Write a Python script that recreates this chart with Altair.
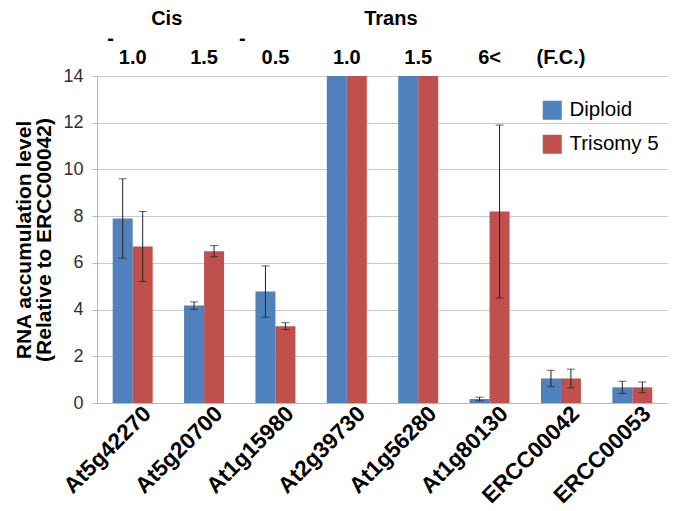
import altair as alt
import pandas as pd

categories = ["At5g42270", "At5g20700", "At1g15980", "At2g39730",
              "At1g56280", "At1g80130", "ERCC00042", "ERCC00053"]
groups = ["Diploid", "Trisomy 5"]
diploid = [7.9, 4.17, 4.77, 14, 14, 0.17, 1.05, 0.67]
diploid_err = [1.7, 0.16, 1.1, None, None, 0.08, 0.35, 0.26]
trisomy = [6.7, 6.5, 3.29, 14, 14, 8.2, 1.05, 0.67]
trisomy_err = [1.5, 0.24, 0.15, None, None, 3.7, 0.4, 0.23]

fc_cats = ["At5g42270", "At5g20700", "At1g15980", "At2g39730",
           "At1g56280", "At1g80130", "ERCC00042"]
fc_labels = ["1.0", "1.5", "0.5", "1.0", "1.5", "6<", "(F.C.)"]

colors = ["#4F81BD", "#C0504D"]

rows = []
for i, c in enumerate(categories):
    rows.append({"gene": c, "group": groups[0], "value": diploid[i],
                 "lo": None if diploid_err[i] is None else diploid[i] - diploid_err[i],
                 "hi": None if diploid_err[i] is None else diploid[i] + diploid_err[i]})
    rows.append({"gene": c, "group": groups[1], "value": trisomy[i],
                 "lo": None if trisomy_err[i] is None else trisomy[i] - trisomy_err[i],
                 "hi": None if trisomy_err[i] is None else trisomy[i] + trisomy_err[i]})
df = pd.DataFrame(rows)
err_df = df.dropna(subset=["lo", "hi"])

FONT = "Liberation Sans"

x_enc = alt.X("gene:N", sort=categories, title=None,
              scale=alt.Scale(paddingInner=0.44, paddingOuter=0.22),
              axis=alt.Axis(labelAngle=-45, labelFontSize=22.5, labelFontWeight="bold",
                            labelColor="#000000", labelFont=FONT, ticks=False,
                            domainColor="#b8b8b8", labelPadding=-1, labelOffset=7))
y_enc = alt.Y("value:Q", scale=alt.Scale(domain=[0, 14], clamp=True),
              title=["RNA accumulation level", "(Relative to ERCC00042)"],
              axis=alt.Axis(values=[0, 2, 4, 6, 8, 10, 12, 14], labelFontSize=18,
                            labelColor="#303030", labelFont=FONT,
                            titleFontSize=21, titleFont=FONT, titleFontWeight="bold",
                            titleColor="#000000", gridColor="#c8c8c8",
                            titleLineHeight=20,
                            domainColor="#b8b8b8", tickColor="#b8b8b8", tickSize=5,
                            labelPadding=9, titlePadding=8))
xoff = alt.XOffset("group:N", sort=groups)

bars = alt.Chart(df).mark_bar(clip=True).encode(
    x=x_enc, y=y_enc, xOffset=xoff,
    color=alt.Color("group:N", sort=groups,
                    scale=alt.Scale(domain=groups, range=colors),
                    legend=alt.Legend(title=None, orient="none", legendX=445, legendY=24,
                                      symbolType="square", symbolSize=361,
                                      symbolStrokeWidth=0, labelFontSize=20.5,
                                      labelFont=FONT, labelColor="#000000",
                                      rowPadding=13, labelOffset=7)))

rules = alt.Chart(err_df).mark_rule(color="#222222", strokeWidth=1).encode(
    x=alt.X("gene:N", sort=categories), xOffset=xoff,
    y=alt.Y("lo:Q"), y2="hi:Q")
caps_hi = alt.Chart(err_df).mark_tick(color="#222222", thickness=1, size=8,
                                      orient="horizontal").encode(
    x=alt.X("gene:N", sort=categories), xOffset=xoff, y="hi:Q")
caps_lo = alt.Chart(err_df).mark_tick(color="#222222", thickness=1, size=8,
                                      orient="horizontal").encode(
    x=alt.X("gene:N", sort=categories), xOffset=xoff, y="lo:Q")

fc_df = pd.DataFrame({"gene": fc_cats, "label": fc_labels})

txt = dict(fontSize=20, fontWeight="bold", font=FONT, baseline="middle")
fc_text = alt.Chart(fc_df).mark_text(**txt).encode(
    x=alt.X("gene:N", sort=categories), y=alt.value(-18), text="label:N")
dash1 = alt.Chart(pd.DataFrame({"gene": ["At5g42270"], "label": ["-"]})).mark_text(
    dx=-22, **txt).encode(x=alt.X("gene:N", sort=categories), y=alt.value(-37), text="label:N")
dash2 = alt.Chart(pd.DataFrame({"gene": ["At1g15980"], "label": ["-"]})).mark_text(
    dx=-33, **txt).encode(x=alt.X("gene:N", sort=categories), y=alt.value(-37), text="label:N")
cis = alt.Chart(pd.DataFrame({"gene": ["At5g42270"], "label": ["Cis"]})).mark_text(
    dx=34, **txt).encode(x=alt.X("gene:N", sort=categories), y=alt.value(-57), text="label:N")
trans = alt.Chart(pd.DataFrame({"gene": ["At2g39730"], "label": ["Trans"]})).mark_text(
    dx=44, **txt).encode(x=alt.X("gene:N", sort=categories), y=alt.value(-57), text="label:N")

chart = alt.layer(bars, rules, caps_hi, caps_lo, fc_text, dash1, dash2, cis, trans).properties(
    width=571, height=327, padding={"left": 5, "top": 1, "right": 0, "bottom": 0}
).configure_view(stroke=None).configure(background="white")

chart.save("out.html", embed_options={"renderer": "svg", "actions": False})
